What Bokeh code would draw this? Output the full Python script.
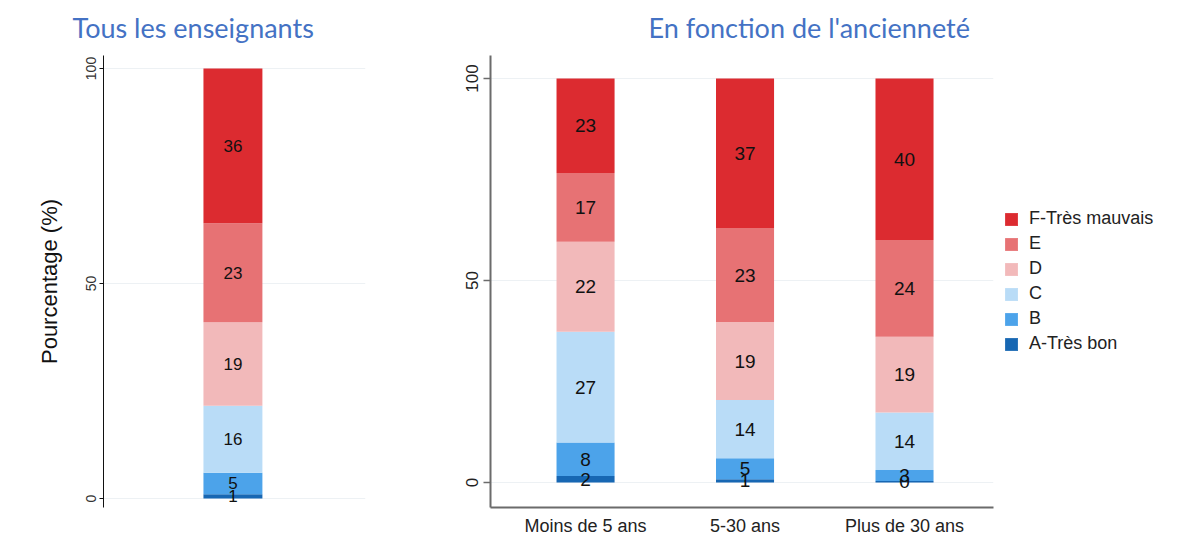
from bokeh.plotting import figure
from bokeh.models import Range1d, FixedTicker, Legend, LegendItem, Title, ColumnDataSource
from bokeh.layouts import row
from bokeh.embed import file_html
from bokeh.resources import INLINE
from bokeh.core.properties import value

# ---- data ----
levels = ["A-Très bon", "B", "C", "D", "E", "F-Très mauvais"]
colors = ["#1767B3", "#4CA3EA", "#B9DCF7", "#F2B9BA", "#E77274", "#DC2B30"]

all_teachers = [1.0, 5.0, 15.6, 19.4, 23.0, 36.0]

groups = ["Moins de 5 ans", "5-30 ans", "Plus de 30 ans"]
moins5 = [1.6, 8.3, 27.4, 22.3, 17.0, 23.4]
de5a30 = [0.8, 5.2, 14.4, 19.3, 23.3, 37.0]
plus30 = [0.4, 2.7, 14.2, 18.8, 23.9, 40.0]

y_ticks = [0, 50, 100]

FONT = "Liberation Sans"
TITLE_FONT = "Lato"
TITLE_COLOR = "#4472C4"


def stack(series_list, xs):
    """Return per-level dicts of x, bottom, top, mid, label."""
    out = []
    bottoms = [0.0] * len(series_list)
    for i in range(len(levels)):
        vals = [s[i] for s in series_list]
        tops = [b + v for b, v in zip(bottoms, vals)]
        out.append(dict(x=list(xs), bottom=list(bottoms), top=tops,
                        mid=[(b + t) / 2 for b, t in zip(bottoms, tops)],
                        label=[f"{v:.0f}" for v in vals]))
        bottoms = tops
    return out


# ---- left panel ----
p1 = figure(frame_width=262, frame_height=452, output_backend="svg", toolbar_location=None,
            x_range=Range1d(-0.494, 0.506), y_range=Range1d(-2.09, 103.02),
            x_axis_location=None,
            min_border_left=103, min_border_right=55, min_border_top=55, min_border_bottom=17)
p1.outline_line_color = None
p1.xgrid.grid_line_color = None
p1.ygrid.grid_line_color = "#EDF1F4"
p1.ygrid.ticker = FixedTicker(ticks=y_ticks)
ax = p1.yaxis[0]
ax.ticker = FixedTicker(ticks=y_ticks)
ax.axis_line_color = "#111111"
ax.major_tick_line_color = "#111111"
ax.major_tick_out = 4
ax.major_tick_in = 0
ax.minor_tick_line_color = None
ax.major_label_orientation = "vertical"
ax.major_label_text_font = FONT
ax.major_label_text_font_size = "14px"
ax.major_label_text_color = "#333333"
ax.major_label_standoff = 3
ax.axis_label = "Pourcentage (%)"
ax.axis_label_text_font = FONT
ax.axis_label_text_font_style = "normal"
ax.axis_label_text_font_size = "22px"
ax.axis_label_text_color = "#111111"
ax.axis_label_standoff = 22

left_stack = stack([all_teachers], [0])
for i, d in enumerate(left_stack):
    src = ColumnDataSource(d)
    p1.vbar(x="x", bottom="bottom", top="top", width=0.225, source=src,
            fill_color=colors[i], line_color=None)
for i, d in enumerate(left_stack):
    src = ColumnDataSource(d)
    p1.text(x="x", y="mid", text="label", source=src, text_align="center",
            text_baseline="middle", text_font=value(FONT), text_font_size="17px",
            text_color="#111111")

p1.add_layout(Title(text="Tous les enseignants", align="left", offset=-31,
                    vertical_align="top", standoff=20,
                    text_font=TITLE_FONT, text_font_size="27px",
                    text_font_style="normal", text_color=TITLE_COLOR), "above")

# ---- right panel ----
xs = list(range(len(groups)))
p2 = figure(frame_width=503, frame_height=452, output_backend="svg", toolbar_location=None,
            x_range=Range1d(-0.596, 2.558), y_range=Range1d(-6.19, 105.69),
            min_border_left=70, min_border_right=175, min_border_top=55, min_border_bottom=30)
p2.outline_line_color = None
p2.xgrid.grid_line_color = None
p2.ygrid.grid_line_color = "#EDF1F4"
p2.ygrid.ticker = FixedTicker(ticks=y_ticks)
ay = p2.yaxis[0]
ay.ticker = FixedTicker(ticks=y_ticks)
ay.axis_line_color = "#6B6B6B"
ay.axis_line_width = 2
ay.major_tick_line_color = "#6B6B6B"
ay.major_tick_line_width = 1.5
ay.major_tick_out = 7
ay.major_tick_in = 0
ay.minor_tick_line_color = None
ay.major_label_orientation = "vertical"
ay.major_label_text_font = FONT
ay.major_label_text_font_size = "17px"
ay.major_label_text_color = "#222222"
ay.major_label_standoff = 5

axx = p2.xaxis[0]
axx.ticker = FixedTicker(ticks=xs)
axx.major_label_overrides = {i: g for i, g in enumerate(groups)}
axx.axis_line_color = "#6B6B6B"
axx.axis_line_width = 2
axx.major_tick_line_color = None
axx.major_tick_out = 0
axx.major_tick_in = 0
axx.minor_tick_line_color = None
axx.major_label_text_font = FONT
axx.major_label_text_font_size = "18px"
axx.major_label_text_color = "#222222"
axx.major_label_standoff = 8

renderers = []
stacked = stack([moins5, de5a30, plus30], xs)
for i, d in enumerate(stacked):
    src = ColumnDataSource(d)
    r = p2.vbar(x="x", bottom="bottom", top="top", width=0.364, source=src,
                fill_color=colors[i], line_color=None)
    renderers.append(r)
for i, d in enumerate(stacked):
    src = ColumnDataSource(d)
    p2.text(x="x", y="mid", text="label", source=src, text_align="center",
            text_baseline="middle", text_font=value(FONT), text_font_size="19px",
            text_color="#111111")

items = [LegendItem(label=levels[i], renderers=[renderers[i]]) for i in reversed(range(len(levels)))]
legend = Legend(items=items, location="center_left", border_line_color=None,
                background_fill_alpha=0, glyph_width=16, glyph_height=16,
                label_height=16, spacing=4, label_standoff=10, padding=2, margin=10,
                label_text_font=FONT, label_text_font_size="18px", label_text_color="#222222")
p2.add_layout(legend, "right")

p2.add_layout(Title(text="En fonction de l'ancienneté", align="left", offset=158,
                    vertical_align="top", standoff=20,
                    text_font=TITLE_FONT, text_font_size="27px",
                    text_font_style="normal", text_color=TITLE_COLOR), "above")

layout = row(p1, p2)
open("out.html", "w").write(file_html(layout, INLINE))
